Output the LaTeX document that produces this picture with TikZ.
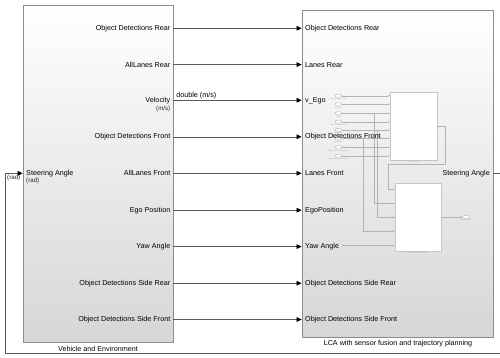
\documentclass[tikz,border=0pt]{standalone}
\usepackage{fontspec}
\setmainfont{Liberation Sans}
\usetikzlibrary{arrows.meta,positioning,shapes.geometric,shadows}

\begin{document}
\begin{tikzpicture}[
    x=1pt, y=-1pt,
    font=\fontsize{7.2}{8.6}\selectfont,
    block/.style={rectangle, draw=gray!90, line width=0.8pt, top color=white, bottom color=gray!32, inner sep=0pt, drop shadow={shadow xshift=0.9pt, shadow yshift=-0.9pt, fill=gray!70, opacity=0.7}},
    portin/.style={anchor=west, inner sep=0pt},
    portout/.style={anchor=east, inner sep=0pt},
    unit/.style={font=\fontsize{6.2}{7}\selectfont, inner sep=0pt, text=black!85},
    sig/.style={draw=black!65, line width=0.6pt, -{Triangle[length=5pt,width=4.6pt,color=black]}},
    mini/.style={rectangle, draw=gray!45, fill=white, line width=0.5pt, inner sep=0pt},
    miniwire/.style={draw=gray!60, line width=0.4pt},
    miniarrow/.style={miniwire, -{Triangle[length=1.6pt,width=1.4pt]}},
    tag/.style={ellipse, draw=gray!60, fill=white, line width=0.4pt, minimum width=7pt, minimum height=3.2pt, inner sep=0pt},
    tinytext/.style={font=\fontsize{1.6}{1.8}\selectfont, text=gray!75, inner sep=0pt}
]
    \useasboundingbox (0,0) rectangle (500,357);
    \clip (0,0) rectangle (500,357);

    % Subsystem blocks
    \node (veh) [block, minimum width=150pt, minimum height=337pt] at (98,173.5) {};
    \node (lca) [block, minimum width=191pt, minimum height=327pt] at (397.5,173.5) {};
    \node at (98,348.8) {Vehicle and Environment};
    \node at (398,343.5) {LCA with sensor fusion and trajectory planning};

    % Contents of the LCA subsystem (miniature)
    \node (fus) [mini, minimum width=47pt, minimum height=68pt] at (413.5,126) {};
    \node [tinytext, below=1pt of fus] {Sensor Fusion};
    \node (ctl) [mini, minimum width=46pt, minimum height=68pt] at (418,217) {};
    \node [tinytext, below=1pt of ctl] {Trajectory Planning and Control};
    \foreach \k/\yy/\txt in {1/95.7/Object Detections Rear, 2/104.3/Lanes Rear, 3/113.3/v\_Ego, 4/121.7/Object Detections Front, 5/130/Lanes Front, 6/138.3/EgoPosition, 7/147.3/Object Detections Side Rear, 8/155.7/Object Detections Side Front} {
        \node (tag\k) [tag] at (338.5,\yy) {};
        \node [tinytext, below=0.7pt of tag\k] {\txt};
        \draw [miniarrow] (tag\k.east) -- (fus.west |- tag\k);
    }
    \node (tagy) [tag] at (339,245.5) {};
    \node (tago) [tag] at (466,217) {};
    \node [tinytext, below=0.7pt of tago] {Steering Angle};

    \coordinate (ctl1) at (ctl.west |- 0,189.3);
    \coordinate (ctl2) at (ctl.west |- 0,203.3);
    \coordinate (ctl3) at (ctl.west |- 0,217.3);
    \coordinate (ctl4) at (ctl.west |- 0,231);
    \coordinate (br3) at (374,113.3);
    \coordinate (br5) at (377,130);
    \coordinate (br6) at (363,138.3);
    \coordinate (fb) at (388,164);

    \draw [miniarrow] (fus.east) -- ++(8,0) |- (fb) |- (ctl1);
    \draw [miniarrow] (br3) |- (ctl2);
    \draw [miniarrow] (br5) |- (ctl3);
    \draw [miniarrow] (br6) |- (ctl4);
    \draw [miniarrow] (tagy.east) -- (ctl.west |- tagy);
    \draw [miniarrow] (ctl.east |- tago) -- (tago.west);

    % Vehicle and Environment ports
    \node (vodr) [portout] at (170.5,28.3) {Object Detections Rear};
    \node (valr) [portout] at (170.5,64.6) {AllLanes Rear};
    \node (vvel) [portout] at (170.5,100.3) {Velocity};
    \node [unit, anchor=east] at (170.5,109.2) {(m/s)};
    \node (vodf) [portout] at (170.5,136.8) {Object Detections Front};
    \node (valf) [portout] at (170.5,173.3) {AllLanes Front};
    \node (vego) [portout] at (170.5,210.2) {Ego Position};
    \node (vyaw) [portout] at (170.5,246.6) {Yaw Angle};
    \node (vsdr) [portout] at (170.5,283.2) {Object Detections Side Rear};
    \node (vsdf) [portout] at (170.5,319.5) {Object Detections Side Front};
    \node (vsa) [portin] at (26,173.3) {Steering Angle};
    \node [unit, anchor=west] at (26,180.4) {(rad)};
    \node [unit, anchor=west] at (7,178.3) {(rad)};

    % LCA ports
    \node (lodr) [portin] at (305,28.3) {Object Detections Rear};
    \node (llr) [portin] at (305,64.6) {Lanes Rear};
    \node (lvel) [portin] at (305,100.3) {v\_Ego};
    \node (lodf) [portin] at (305,136.8) {Object Detections Front};
    \node (llf) [portin] at (305,173.3) {Lanes Front};
    \node (lego) [portin] at (305,210.2) {EgoPosition};
    \node (lyaw) [portin] at (305,246.6) {Yaw Angle};
    \node (lsdr) [portin] at (305,283.2) {Object Detections Side Rear};
    \node (lsdf) [portin] at (305,319.5) {Object Detections Side Front};
    \node (lsa) [portout] at (490,173.3) {Steering Angle};

    % Signals
    \draw [sig] (veh.east |- vodr) -- (lca.west |- lodr);
    \draw [sig] (veh.east |- valr) -- (lca.west |- llr);
    \draw [sig] (veh.east |- vvel) -- node[pos=0.02, anchor=south west, inner sep=0pt, yshift=1.5pt] {double (m/s)} (lca.west |- lvel);
    \draw [sig] (veh.east |- vodf) -- (lca.west |- lodf);
    \draw [sig] (veh.east |- valf) -- (lca.west |- llf);
    \draw [sig] (veh.east |- vego) -- (lca.west |- lego);
    \draw [sig] (veh.east |- vyaw) -- (lca.west |- lyaw);
    \draw [sig] (veh.east |- vsdr) -- (lca.west |- lsdr);
    \draw [sig] (veh.east |- vsdf) -- (lca.west |- lsdf);

    % Steering feedback loop
    \coordinate (fbr) at (501,352.8);
    \coordinate (fbl) at (5,352.8);
    \draw [sig] (lca.east |- lsa) -| (fbr) -- (fbl) |- (veh.west |- vsa);

\end{tikzpicture}
\end{document}
